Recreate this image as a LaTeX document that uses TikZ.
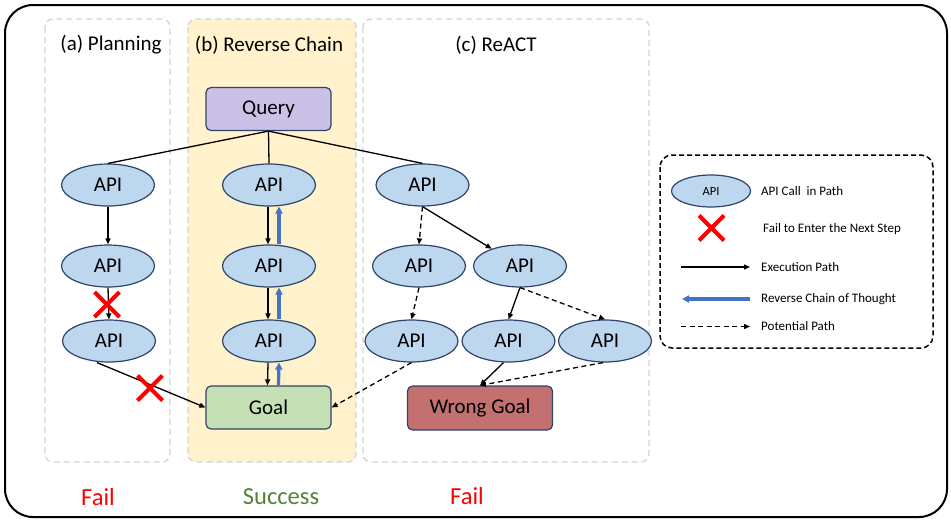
\documentclass[tikz,border=0pt]{standalone}
\usepackage{fontspec}
\setmainfont{Carlito}
\usetikzlibrary{shapes.geometric,arrows.meta}

\definecolor{apifill}{HTML}{BDD7EE}
\definecolor{edgenavy}{HTML}{2F4468}
\definecolor{queryfill}{HTML}{CBC0E6}
\definecolor{goalfill}{HTML}{C5E0B4}
\definecolor{wrongfill}{HTML}{C27070}
\definecolor{chainbg}{HTML}{FFF2CC}
\definecolor{panelgray}{HTML}{D3D3D3}
\definecolor{revblue}{HTML}{4472C4}
\definecolor{okgreen}{HTML}{548235}

\tikzset{
  api/.style={ellipse, draw=edgenavy, fill=apifill, line width=1.2pt,
    minimum width=93pt, minimum height=42pt, inner sep=0pt,
    font=\fontsize{21}{24}\selectfont},
  stepbox/.style={rectangle, rounded corners=5pt, draw=edgenavy, line width=1.2pt,
    minimum width=125pt, minimum height=43pt, inner sep=0pt,
    font=\fontsize{21}{24}\selectfont},
  panel/.style={draw=panelgray, dash pattern=on 6pt off 4pt, rounded corners=8pt,
    line width=1.3pt},
  title/.style={font=\fontsize{21}{24}\selectfont, inner sep=0pt},
  verdict/.style={font=\fontsize{24.5}{28}\selectfont, inner sep=0pt},
  legtext/.style={font=\fontsize{13}{15}\selectfont, anchor=west, inner sep=0pt},
  conn/.style={line width=1.3pt},
  arr/.style={conn, -{Triangle[length=6pt,width=5pt]}},
  pot/.style={arr, dash pattern=on 5pt off 3.5pt},
  rev/.style={draw=revblue, line width=3.2pt, -{Triangle[length=7pt,width=7pt]}},
  redx/.pic={\draw[red, line width=4pt] (-12.5,-12.5) -- (12.5,12.5) (-12.5,12.5) -- (12.5,-12.5);}
}

\begin{document}
\begin{tikzpicture}[x=1pt,y=-1pt]
\useasboundingbox (0,0) rectangle (951,520);

% outer frame
\draw[line width=2pt, rounded corners=28pt] (5,5) rectangle (947,517);

% panels
\draw[panel] (45,19) rectangle (170,462);
\draw[panel, fill=chainbg] (188,19) rectangle (356,462);
\draw[panel] (363,19) rectangle (649,462);

\node[title] (ta) at (111,45) {(a) Planning};
\node[title] (tb) at (269,45) {(b) Reverse Chain};
\node[title] (tc) at (496,45) {(c) ReACT};

% query
\node[stepbox, fill=queryfill] (query) at (268.5,109) {Query};

% (a) planning
\node[api] (a1) at (108,185) {API};
\node[api] (a2) at (108,266) {API};
\node[api] (a3) at (109,341) {API};

% (b) reverse chain
\node[api] (b1) at (269,185) {API};
\node[api] (b2) at (269,266) {API};
\node[api] (b3) at (269,341) {API};
\node[stepbox, fill=goalfill] (goal) at (268.5,407.5) {Goal};

% (c) ReACT
\node[api] (c1) at (422.5,185) {API};
\node[api] (c2l) at (419,266) {API};
\node[api] (c2r) at (520,266) {API};
\node[api] (c3l) at (411.5,341) {API};
\node[api] (c3m) at (508.5,341) {API};
\node[api] (c3r) at (605,341) {API};
\node[stepbox, fill=wrongfill, minimum width=145pt, minimum height=44pt] (wrong) at (480,408) {Wrong Goal};

% query fan-out
\draw[conn] (query.south) -- (a1.north);
\draw[conn] (query.south) -- (b1.north);
\draw[conn] (query.south) -- (c1.north);

% (a) edges
\draw[arr] (a1.south) -- (a2.north);
\draw[arr] (a2.south) -- (a3.north);
\pic at (107,304.5) {redx};
\draw[arr] ([xshift=-12pt]a3.south) -- (goal.west);
\pic at (150,388) {redx};

% (b) edges: execution down, reverse chain up
\draw[arr] ([xshift=-1pt]b1.south) -- ([xshift=-1pt]b2.north);
\draw[arr] ([xshift=-1pt]b2.south) -- ([xshift=-1pt]b3.north);
\draw[arr] ([xshift=-1pt]b3.south) -- ([xshift=-1pt]goal.north);
\draw[rev] ([xshift=10pt]b2.north) -- ([xshift=10pt]b1.south);
\draw[rev] ([xshift=10pt]b3.north) -- ([xshift=10pt]b2.south);
\draw[rev] ([xshift=10pt]goal.north) -- ([xshift=10pt]b3.south);

% (c) edges
\draw[pot] (c1.south) -- (c2l.north);
\draw[arr] (c1.south) -- (c2r);
\draw[pot] (c2l.south) -- (c3l.north);
\draw[arr] (c2r.south) -- (c3m.north);
\draw[pot] (c2r.south) -- (c3r.north);
\draw[pot] (c3l.south) -- (goal.east);
\draw[arr] ([xshift=-5pt]c3m.south) -- (wrong.north);
\draw[pot] ([xshift=-2pt]c3r.south) -- (wrong.north);

% legend
\draw[line width=1.5pt, dash pattern=on 5pt off 3pt, rounded corners=12pt] (660,155) rectangle (933,348);
\node[api, minimum width=79pt, minimum height=32pt, font=\fontsize{12.5}{14}\selectfont] (lapi) at (711,191) {API};
\node[legtext] (lapit) at (761,191) {API Call\ \ in Path};
\pic at (711.5,228) {redx};
\node[legtext] (lxt) at (763,229) {Fail to Enter the Next Step};
\coordinate (le1) at (681,267);
\coordinate (le2) at (750,267);
\draw[arr] (le1) -- (le2);
\node[legtext] (let) at (761,267) {Execution Path};
\coordinate (lr1) at (750,299);
\coordinate (lr2) at (682,299);
\draw[rev] (lr1) -- (lr2);
\node[legtext] (lrt) at (761,299) {Reverse Chain of Thought};
\coordinate (lp1) at (681,326.5);
\coordinate (lp2) at (750,326.5);
\draw[pot] (lp1) -- (lp2);
\node[legtext] (lpt) at (761,326.5) {Potential Path};

% outcomes
\node[verdict, text=red] (fa) at (98,497) {Fail};
\node[verdict, text=okgreen] (fb) at (281,497) {Success};
\node[verdict, text=red] (fc) at (467,496) {Fail};
\end{tikzpicture}
\end{document}
